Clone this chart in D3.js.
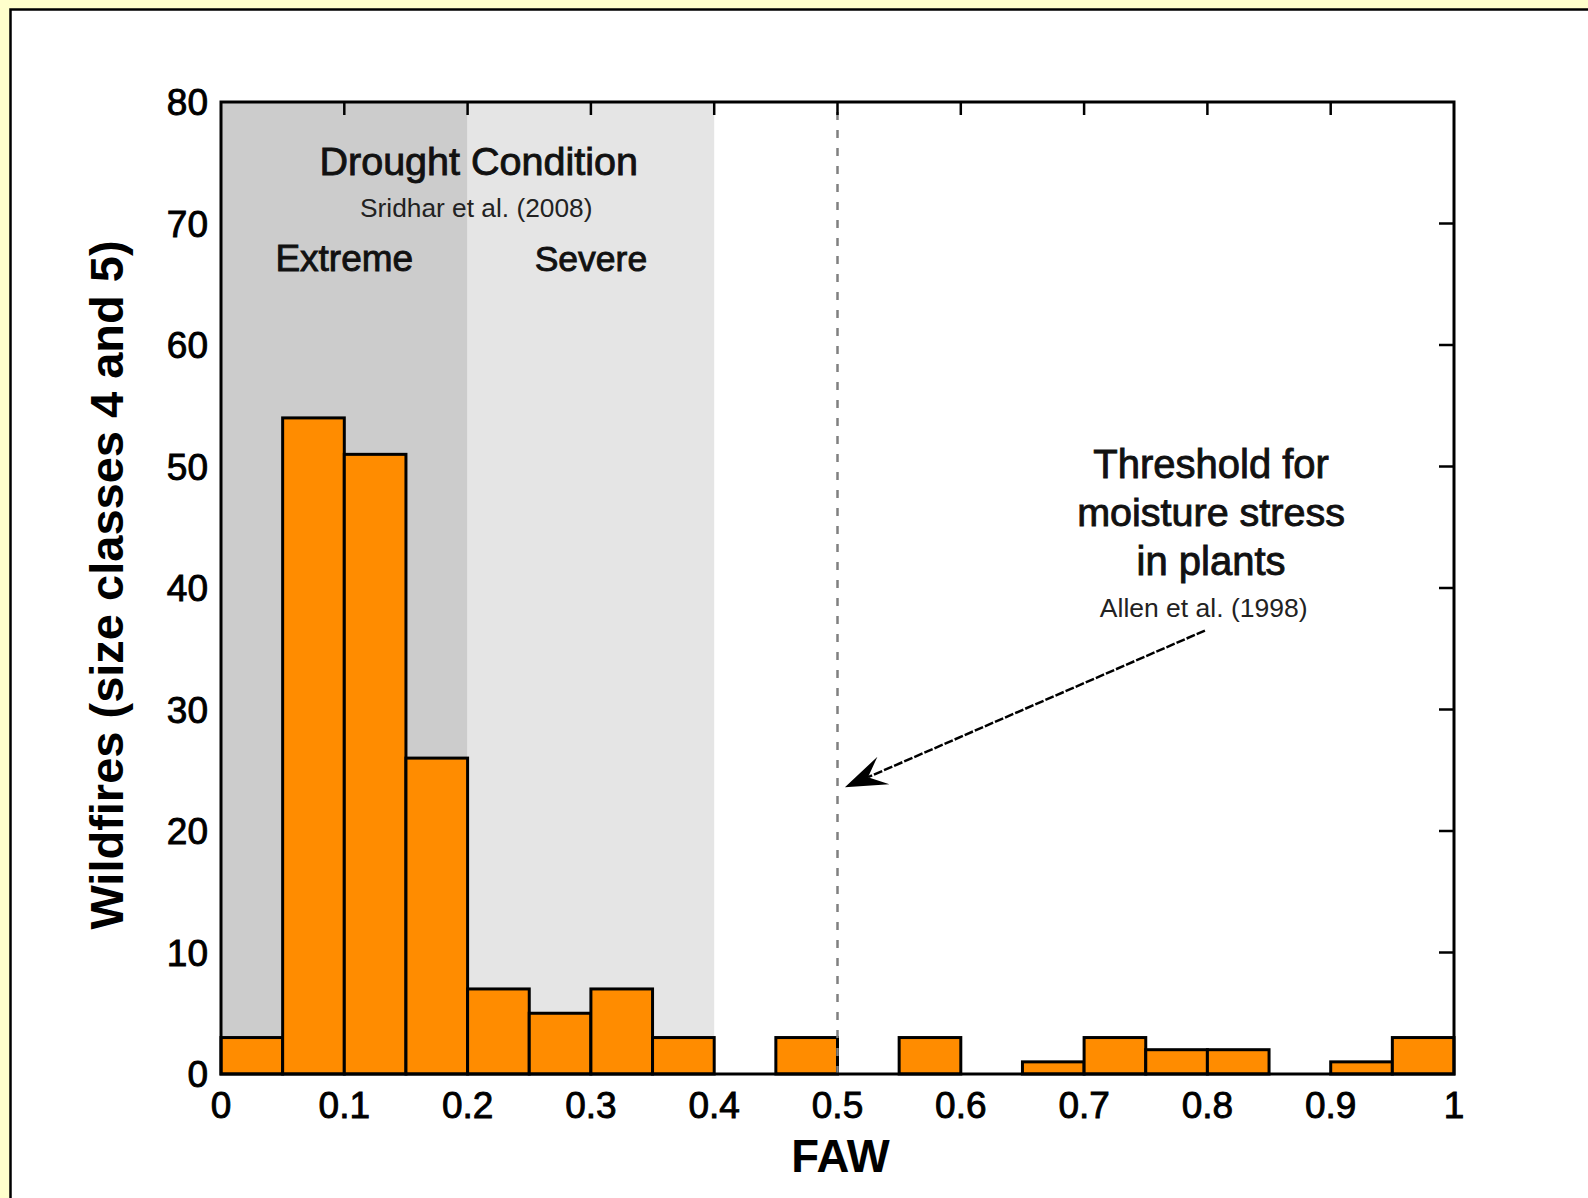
<!DOCTYPE html>
<html>
<head>
<meta charset="utf-8">
<script src="https://cdn.jsdelivr.net/npm/d3@7"></script>
<style>
  html, body { margin: 0; padding: 0; background: #FFFFCC; }
  svg { display: block; }
</style>
</head>
<body>
<svg id="chart" width="1588" height="1198"></svg>
<script>
// ---- data ----
const binStarts = [0, 0.05, 0.1, 0.15, 0.2, 0.25, 0.3, 0.35, 0.4, 0.45, 0.5, 0.55, 0.6, 0.65, 0.7, 0.75, 0.8, 0.85, 0.9, 0.95];
const binWidth = 0.05;
const counts = [3, 54, 51, 26, 7, 5, 7, 3, 0, 3, 0, 3, 0, 1, 3, 2, 2, 0, 1, 3];
const xTicks = [0, 0.1, 0.2, 0.3, 0.4, 0.5, 0.6, 0.7, 0.8, 0.9, 1];
const xTickLabels = ["0", "0.1", "0.2", "0.3", "0.4", "0.5", "0.6", "0.7", "0.8", "0.9", "1"];
const yTicks = [0, 10, 20, 30, 40, 50, 60, 70, 80];
const droughtZones = [
  { name: "Extreme", from: 0, to: 0.2, color: "#CCCCCC" },
  { name: "Severe", from: 0.2, to: 0.4, color: "#E5E5E5" }
];
const thresholdFAW = 0.5;
const xTitle = "FAW";
const yTitle = "Wildfires (size classes 4 and 5)";
// annotation texts anchored in data units
const notes = [
  { text: "Drought Condition", x: 0.209, y: 74.0, size: 39.5, heavy: true },
  { text: "Sridhar et al. (2008)", x: 0.207, y: 70.5, size: 26.3, heavy: false },
  { text: "Extreme", x: 0.1, y: 66.1, size: 37, heavy: true },
  { text: "Severe", x: 0.30, y: 66.1, size: 35.5, heavy: true },
  { text: "Threshold for", x: 0.803, y: 49.05, size: 40, heavy: true },
  { text: "moisture stress", x: 0.803, y: 45.1, size: 39.5, heavy: true },
  { text: "in plants", x: 0.803, y: 41.05, size: 40, heavy: true },
  { text: "Allen et al. (1998)", x: 0.797, y: 37.6, size: 26.5, heavy: false }
];
const arrowFrom = { x: 0.798, y: 36.5 };
const arrowTo = { x: 0.506, y: 23.6 };

// ---- layout ----
const svg = d3.select("#chart");
const L = 221, R = 1454, T = 102, B = 1074;
const x = d3.scaleLinear().domain([0, 1]).range([L, R]);
const y = d3.scaleLinear().domain([0, 80]).range([B, T]);
const font = "'Liberation Sans', Arial, sans-serif";

// white panel with border
svg.append("rect").attr("x", 10.5).attr("y", 9.5).attr("width", 1600).attr("height", 1220)
  .attr("fill", "#fff").attr("stroke", "#000").attr("stroke-width", 2.5);

// shaded drought zones
svg.selectAll("rect.zone").data(droughtZones).enter().append("rect")
  .attr("class", "zone")
  .attr("x", d => x(d.from)).attr("width", d => x(d.to) - x(d.from))
  .attr("y", y(80)).attr("height", y(0) - y(80))
  .attr("fill", d => d.color);

// bars
const bars = binStarts.map((s, i) => ({ s, c: counts[i] })).filter(d => d.c > 0);
svg.selectAll("rect.bar").data(bars).enter().append("rect")
  .attr("class", "bar")
  .attr("x", d => x(d.s)).attr("width", d => x(d.s + binWidth) - x(d.s))
  .attr("y", d => y(d.c)).attr("height", d => y(0) - y(d.c))
  .attr("fill", "#FF8C00").attr("stroke", "#000").attr("stroke-width", 3);

// threshold dashed line
svg.append("line")
  .attr("x1", x(thresholdFAW)).attr("x2", x(thresholdFAW))
  .attr("y1", y(0)).attr("y2", y(80))
  .attr("stroke", "#808080").attr("stroke-width", 2.5).attr("stroke-dasharray", "8,10");

// frame
svg.append("rect").attr("x", L).attr("y", T).attr("width", R - L).attr("height", B - T)
  .attr("fill", "none").attr("stroke", "#000").attr("stroke-width", 3);

// top ticks (inside)
svg.selectAll("line.tt").data(xTicks.slice(1, -1)).enter().append("line")
  .attr("x1", d => x(d)).attr("x2", d => x(d)).attr("y1", T).attr("y2", T + 13)
  .attr("stroke", "#000").attr("stroke-width", 2.5);
// right ticks (inside)
svg.selectAll("line.rt").data(yTicks.slice(1, -1)).enter().append("line")
  .attr("x1", R).attr("x2", R - 15).attr("y1", d => y(d)).attr("y2", d => y(d))
  .attr("stroke", "#000").attr("stroke-width", 2.5);

// tick labels
svg.selectAll("text.xl").data(xTicks).enter().append("text")
  .attr("x", d => x(d)).attr("y", 1118)
  .attr("text-anchor", "middle").attr("font-family", font).attr("font-size", 37)
  .attr("stroke", "#000").attr("stroke-width", 0.9)
  .text((d, i) => xTickLabels[i]);
svg.selectAll("text.yl").data(yTicks).enter().append("text")
  .attr("x", L - 13).attr("y", d => y(d)).attr("dy", "0.36em")
  .attr("text-anchor", "end").attr("font-family", font).attr("font-size", 37)
  .attr("stroke", "#000").attr("stroke-width", 0.9)
  .text(d => d);

// axis titles
svg.append("text").attr("x", (L + R) / 2 + 3).attr("y", 1172)
  .attr("text-anchor", "middle").attr("font-family", font).attr("font-weight", "bold")
  .attr("font-size", 45.5).text(xTitle);
svg.append("text").attr("transform", `translate(123, ${(T + B) / 2 - 3}) rotate(-90)`)
  .attr("text-anchor", "middle").attr("font-family", font).attr("font-weight", "bold")
  .attr("font-size", 47).text(yTitle);

// annotation texts
svg.selectAll("text.note").data(notes).enter().append("text")
  .attr("x", d => x(d.x)).attr("y", d => y(d.y))
  .attr("text-anchor", "middle").attr("font-family", font).attr("font-size", d => d.size)
  .attr("fill", d => d.heavy ? "#111" : "#222")
  .attr("stroke", d => d.heavy ? "#111" : "none").attr("stroke-width", 0.9)
  .text(d => d.text);

// arrow
const x0 = x(arrowFrom.x), y0 = y(arrowFrom.y), x1 = x(arrowTo.x), y1 = y(arrowTo.y);
const ang = Math.atan2(y1 - y0, x1 - x0);
const headLen = 42, headHalf = 15;
const ux = Math.cos(ang), uy = Math.sin(ang);
const px = -uy, py = ux;
const baseX = x1 - ux * headLen, baseY = y1 - uy * headLen;
const notchX = x1 - ux * headLen * 0.6, notchY = y1 - uy * headLen * 0.6;
svg.append("line").attr("x1", x0).attr("y1", y0).attr("x2", notchX).attr("y2", notchY)
  .attr("stroke", "#000").attr("stroke-width", 2.5).attr("stroke-dasharray", "9,2");
svg.append("path")
  .attr("d", `M${x1},${y1} L${baseX + px * headHalf},${baseY + py * headHalf} L${notchX},${notchY} L${baseX - px * headHalf},${baseY - py * headHalf} Z`)
  .attr("fill", "#000");
</script>
</body>
</html>
